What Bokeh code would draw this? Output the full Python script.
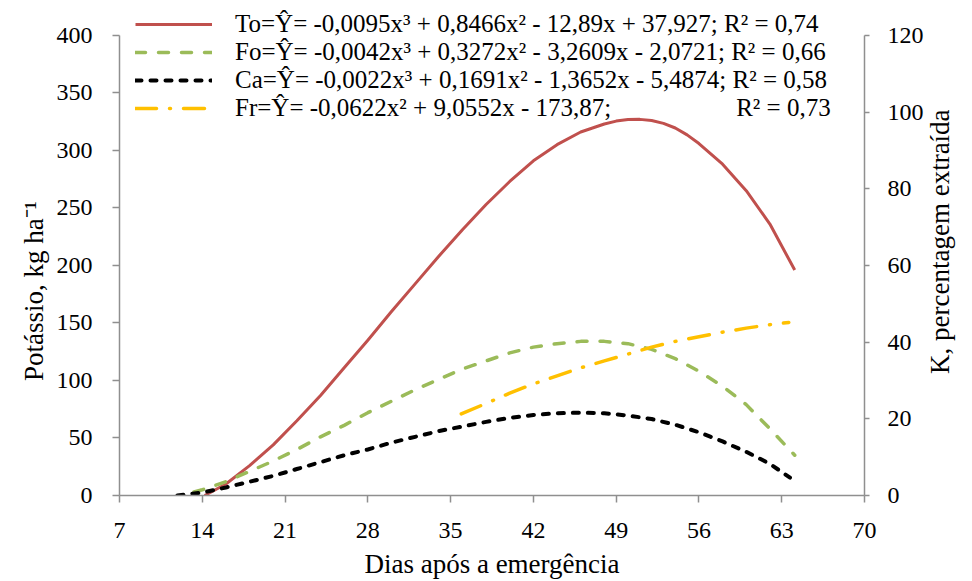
import math
from bokeh.plotting import figure
from bokeh.models import Range1d, LinearAxis, FixedTicker, Legend, LegendItem
from bokeh.embed import file_html
from bokeh.resources import INLINE

# ---- data ----
x_ticks = [7, 14, 21, 28, 35, 42, 49, 56, 63, 70]
y_left_ticks = [0, 50, 100, 150, 200, 250, 300, 350, 400]
y_right_ticks = [0, 20, 40, 60, 80, 100, 120]

to_x = [14.2, 16, 18, 20, 22, 24, 26, 28, 30, 32, 34, 36, 38, 40, 42, 44, 46, 48, 49, 50, 51, 52, 53, 54, 55, 56, 58, 60, 62, 64.1]
to_y = [0, 10, 26, 44, 65, 87, 111, 135, 160, 184, 208, 231, 253, 273, 291, 305, 316, 323, 325.5, 326.8, 327, 326, 323.5, 319.5, 313.5, 306, 288, 265, 236, 196]

fo_x = [13.3, 14, 16, 18, 20, 22, 24, 26, 28, 30, 32, 34, 36, 38, 40, 42, 44, 46, 48, 50, 52, 54, 56, 58, 60, 62, 64.1]
fo_y = [3, 5, 12, 21, 30, 40, 51, 61, 72, 82, 92, 101, 110, 117, 124, 129, 132, 134, 134, 132, 127, 119, 108, 95, 79, 58, 35]

ca_x = [11.9, 14, 16, 18, 20, 22, 24, 26, 28, 30, 32, 34, 36, 38, 40, 42, 44, 46, 48, 50, 52, 54, 56, 58, 60, 62, 63.7]
ca_y = [0, 2.5, 7, 12, 17, 23, 29, 35, 40, 46, 51, 56, 60, 64, 67.5, 70, 71.5, 72, 71.5, 69.5, 66.5, 61.5, 55, 47, 38, 27.5, 15.5]

fr_x = [35.9, 38, 40, 42, 44, 46, 48, 50, 52, 54, 56, 58, 60, 62, 63.6]
fr_y = [71, 80, 89, 97, 104, 111, 117, 123, 129, 134, 138, 142, 145.5, 148.5, 150.5]

labels = [
    "To=\u0176= -0,0095x\u00b3 + 0,8466x\u00b2 - 12,89x + 37,927; R\u00b2 = 0,74",
    "Fo=\u0176= -0,0042x\u00b3 + 0,3272x\u00b2 - 3,2609x - 2,0721; R\u00b2 = 0,66",
    "Ca=\u0176= -0,0022x\u00b3 + 0,1691x\u00b2 - 1,3652x - 5,4874; R\u00b2 = 0,58",
    "Fr=\u0176= -0,0622x\u00b2 + 9,0552x - 173,87;" + "\u00a0" * 20 + "R\u00b2 = 0,73",
]
left_title = "Potássio, kg ha\u207b\u00b9"
right_title = "K, percentagem extraída"

FONT = "Liberation Serif"
AXIS_COLOR = "#8F8F8F"

# frame runs from y=5 to y=496; the 400 / 120 ticks sit at y=35
Y_TOP = 426.0
p = figure(width=972, height=581, x_range=Range1d(7, 70), y_range=Range1d(0, Y_TOP),
           output_backend="svg", toolbar_location=None,
           min_border_left=110, min_border_right=103, min_border_top=5, min_border_bottom=85)
p.extra_y_ranges = {"pct": Range1d(0, Y_TOP * 120 / 400)}
p.xgrid.visible = False
p.ygrid.visible = False
p.outline_line_color = None
p.background_fill_color = "white"
p.border_fill_color = "white"

def style_axis(ax):
    ax.axis_line_color = AXIS_COLOR
    ax.axis_line_width = 1.5
    ax.major_tick_line_color = AXIS_COLOR
    ax.major_tick_line_width = 1.5
    ax.minor_tick_line_color = None
    ax.major_tick_in = 0
    ax.major_tick_out = 7
    ax.major_label_text_font = FONT
    ax.major_label_text_font_size = "24px"
    ax.major_label_text_color = "black"
    ax.axis_label_text_font = FONT
    ax.axis_label_text_font_size = "27px"
    ax.axis_label_text_font_style = "normal"
    ax.axis_label_text_color = "black"

xa = p.xaxis[0]
xa.ticker = FixedTicker(ticks=x_ticks)
style_axis(xa)
xa.major_label_standoff = 20
xa.axis_label = "Dias após a emergência"
xa.axis_label_standoff = 8

ya = p.yaxis[0]
ya.ticker = FixedTicker(ticks=y_left_ticks)
ya.bounds = (0, 400)
style_axis(ya)
ya.major_label_standoff = 20
ya.axis_label = left_title
ya.axis_label_standoff = 20
try:
    ya.axis_label_orientation = math.pi / 2
    try:
        ya.axis_label_align = "end"
        ya.axis_label = left_title + "\u00a0" * 29
    except Exception:
        ya.axis_label_orientation = "parallel"
except Exception:
    pass

yr = LinearAxis(y_range_name="pct", ticker=FixedTicker(ticks=y_right_ticks), bounds=(0, 120))
style_axis(yr)
yr.major_tick_out = 5
yr.major_label_standoff = 18
yr.axis_label = right_title
yr.axis_label_standoff = 13
try:
    yr.axis_label_orientation = math.pi / 2
    try:
        yr.axis_label_align = "start"
        yr.axis_label = "\u00a0" * 18 + right_title
    except Exception:
        pass
except Exception:
    pass
p.add_layout(yr, "right")

r_to = p.line(to_x, to_y, line_color="#C0504D", line_width=3, line_join="round")
r_fo = p.line(fo_x, fo_y, line_color="#9BBB59", line_width=3.5, line_dash="10 13", line_cap="round")
r_ca = p.line(ca_x, ca_y, line_color="#000000", line_width=4, line_dash="6 9", line_cap="round")
r_fr = p.line(fr_x, fr_y, line_color="#FFC000", line_width=3.5, line_dash="21 13 1 13", line_cap="round")

legend = Legend(items=[LegendItem(label=labels[0], renderers=[r_to]),
                       LegendItem(label=labels[1], renderers=[r_fo]),
                       LegendItem(label=labels[2], renderers=[r_ca]),
                       LegendItem(label=labels[3], renderers=[r_fr])],
                location=(16, 373), orientation="vertical", padding=0, margin=0, spacing=0,
                glyph_width=77, glyph_height=20, label_height=20, label_standoff=23,
                label_text_font=FONT, label_text_font_size="25px", label_text_color="black",
                background_fill_alpha=0, border_line_color=None)
p.add_layout(legend)

open("out.html", "w").write(file_html(p, INLINE))
